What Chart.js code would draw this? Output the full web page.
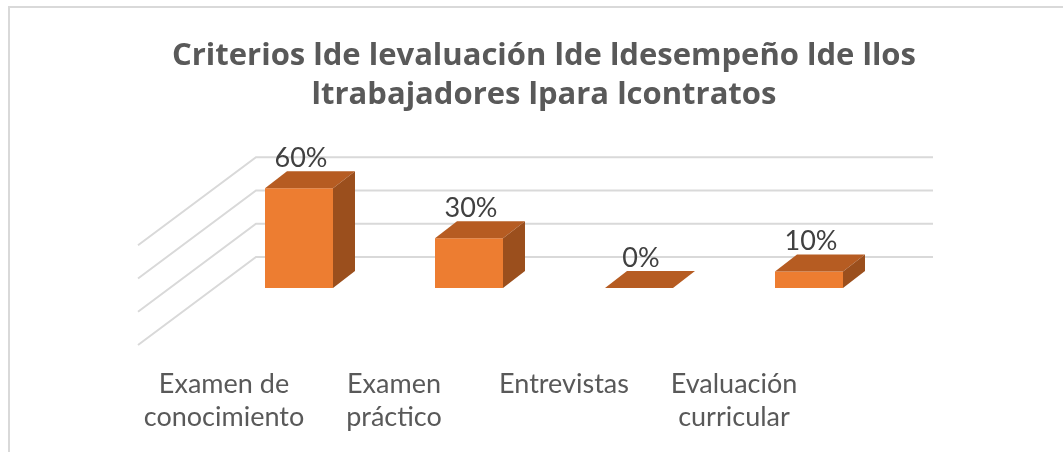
<!DOCTYPE html>
<html>
<head>
<meta charset="utf-8">
<title>Criterios de evaluación</title>
<script src="https://cdn.jsdelivr.net/npm/chart.js@4"></script>
<style>
  html, body { margin: 0; padding: 0; background: #fff; }
  #wrap { position: relative; width: 1063px; height: 452px; overflow: hidden; }
  #frame { position: absolute; left: 8px; top: 6px; right: -4px; bottom: -4px;
           border-top: 2px solid #d9d9d9; border-left: 2px solid #d9d9d9; }
  canvas { position: absolute; left: 0; top: 0; }
</style>
</head>
<body>
<div id="wrap">
  <div id="frame"></div>
  <canvas id="chart" width="1063" height="452"></canvas>
</div>
<script>
// data
const categories = [
  ['Examen de', 'conocimiento'],
  ['Examen', 'práctico'],
  ['Entrevistas'],
  ['Evaluación', 'curricular']
];
const percentages = [60, 30, 0, 10];
const gridSteps = [0, 20, 40, 60];
const titleLines = ['Criterios lde levaluación lde ldesempeño lde llos', 'ltrabajadores lpara lcontratos'];

// 3d look
const FRONT = '#ed7d31';
const TOP = '#b65c22';
const SIDE = '#9b4f1d';
const DEPTH_X = 22, DEPTH_Y = -17;
const WALL_X = 42, WALL_Y = -31;

// title centred on the whole picture, not on the plot area
const titlePlugin = {
  id: 'centerTitle',
  afterDraw(chart) {
    const { ctx } = chart;
    ctx.save();
    ctx.fillStyle = '#595959';
    ctx.font = 'bold 31px "Open Sans", Lato, sans-serif';
    ctx.textAlign = 'center';
    ctx.textBaseline = 'middle';
    titleLines.forEach((line, i) => ctx.fillText(line, 544, 56 + i * 39));
    ctx.restore();
  }
};

// back wall + side wall grid lines, behind the bars
const wallPlugin = {
  id: 'walls',
  beforeDatasetsDraw(chart) {
    const { ctx, chartArea, scales } = chart;
    const y = scales.y;
    ctx.save();
    ctx.strokeStyle = '#d9d9d9';
    ctx.lineWidth = 2;
    gridSteps.forEach(v => {
      const py = y.getPixelForValue(v) + WALL_Y;
      const lx = chartArea.left + WALL_X;
      ctx.beginPath();
      ctx.moveTo(chartArea.right + 39, py);
      ctx.lineTo(lx, py);
      ctx.lineTo(lx - 118, py + 88);
      ctx.stroke();
    });
    ctx.restore();
  }
};

// top and side faces of each bar, plus the value labels
const boxPlugin = {
  id: 'boxes',
  afterDatasetsDraw(chart) {
    const { ctx } = chart;
    const meta = chart.getDatasetMeta(0);
    ctx.save();
    meta.data.forEach((bar, i) => {
      const l = bar.x - bar.width / 2;
      const r = bar.x + bar.width / 2;
      const t = bar.y;
      const b = bar.base;
      // top
      ctx.fillStyle = TOP;
      ctx.beginPath();
      ctx.moveTo(l, t);
      ctx.lineTo(r, t);
      ctx.lineTo(r + DEPTH_X, t + DEPTH_Y);
      ctx.lineTo(l + DEPTH_X, t + DEPTH_Y);
      ctx.closePath();
      ctx.fill();
      // side
      if (b - t > 0.5) {
        ctx.fillStyle = SIDE;
        ctx.beginPath();
        ctx.moveTo(r, t);
        ctx.lineTo(r + DEPTH_X, t + DEPTH_Y);
        ctx.lineTo(r + DEPTH_X, b + DEPTH_Y);
        ctx.lineTo(r, b);
        ctx.closePath();
        ctx.fill();
      }
      // label
      ctx.fillStyle = '#404040';
      ctx.font = '27px Lato, "Open Sans", sans-serif';
      ctx.textAlign = 'center';
      ctx.textBaseline = 'middle';
      ctx.fillText(percentages[i] + '%', bar.x + 2, t - 30);
    });
    ctx.restore();
  }
};

new Chart(document.getElementById('chart'), {
  type: 'bar',
  data: {
    labels: categories,
    datasets: [{
      data: percentages,
      backgroundColor: FRONT,
      borderWidth: 0,
      categoryPercentage: 0.8,
      barPercentage: 0.5
    }]
  },
  options: {
    responsive: false,
    animation: false,
    events: [],
    layout: { padding: { left: 214, right: 169, top: 155, bottom: 18 } },
    plugins: {
      legend: { display: false },
      tooltip: { enabled: false },
      title: { display: false }
    },
    scales: {
      x: {
        grid: { display: false, drawTicks: false },
        border: { display: false },
        afterFit(scale) { scale.height = 146; },
        ticks: {
          color: '#595959',
          font: { family: 'Lato, "Open Sans", sans-serif', size: 27, lineHeight: 1.22 },
          padding: 80,
          labelOffset: -75,
          maxRotation: 0,
          autoSkip: false
        }
      },
      y: {
        display: false,
        min: 0,
        max: 80
      }
    }
  },
  plugins: [wallPlugin, boxPlugin, titlePlugin]
});
</script>
</body>
</html>
